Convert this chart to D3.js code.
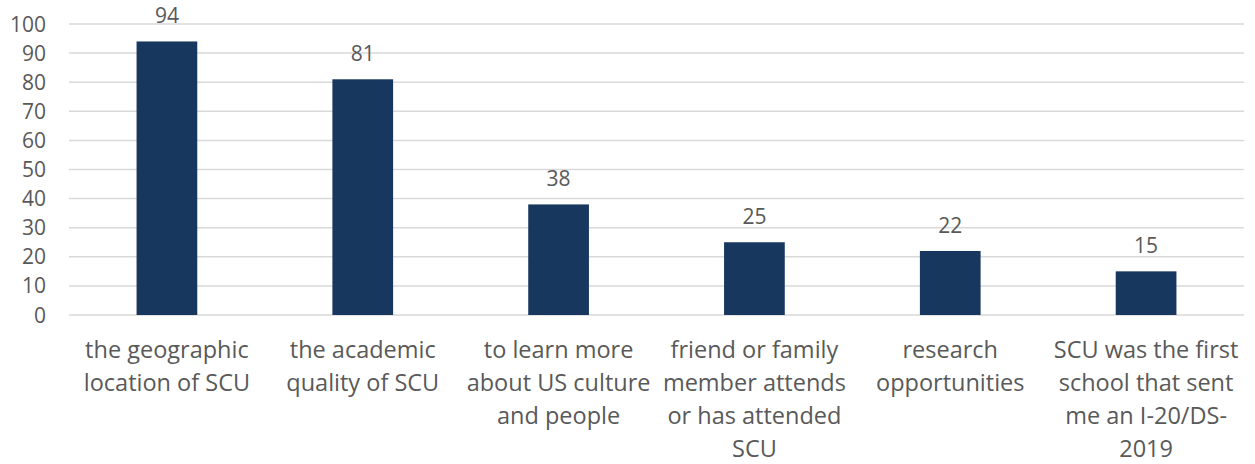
<!DOCTYPE html>
<html>
<head>
<meta charset="utf-8">
<script src="https://cdn.jsdelivr.net/npm/d3@7"></script>
<style>
  body { margin: 0; background: #fff; }
  text { font-family: "Open Sans", Lato, sans-serif; fill: #595959; }
</style>
</head>
<body>
<svg id="chart"></svg>
<script>
// categories, line breaks as in the original chart
const categories = [
  "the geographic\nlocation of SCU",
  "the academic\nquality of SCU",
  "to learn more\nabout US culture\nand people",
  "friend or family\nmember attends\nor has attended\nSCU",
  "research\nopportunities",
  "SCU was the first\nschool that sent\nme an I-20/DS-\n2019"
];
const values = [94, 81, 38, 25, 22, 15];
const yTicks = [0, 10, 20, 30, 40, 50, 60, 70, 80, 90, 100];

const width = 1255, height = 464;
const margin = {top: 24, right: 11, bottom: 149, left: 69};

const svg = d3.select("#chart")
    .attr("width", width)
    .attr("height", height);

const x = d3.scaleBand()
    .domain(categories)
    .range([margin.left, width - margin.right])
    .paddingInner(0.69)
    .paddingOuter(0.345);

const y = d3.scaleLinear()
    .domain([0, 100])
    .range([height - margin.bottom, margin.top]);

// gridlines
svg.append("g")
    .selectAll("line")
    .data(yTicks)
    .join("line")
    .attr("x1", margin.left)
    .attr("x2", width - margin.right)
    .attr("y1", d => y(d))
    .attr("y2", d => y(d))
    .attr("stroke", "#d9d9d9")
    .attr("stroke-width", 1.5);

// y tick labels
svg.append("g")
    .selectAll("text")
    .data(yTicks)
    .join("text")
    .attr("x", 46)
    .attr("y", d => y(d))
    .attr("dy", "0.36em")
    .attr("text-anchor", "end")
    .style("font-size", "21px")
    .text(d => d);

// bars
svg.append("g")
    .selectAll("rect")
    .data(values)
    .join("rect")
    .attr("x", (d, i) => x(categories[i]))
    .attr("y", d => y(d))
    .attr("width", x.bandwidth())
    .attr("height", d => y(0) - y(d))
    .attr("fill", "#17375e");

// value labels
svg.append("g")
    .selectAll("text")
    .data(values)
    .join("text")
    .attr("x", (d, i) => x(categories[i]) + x.bandwidth() / 2)
    .attr("y", d => y(d) - 18)
    .attr("text-anchor", "middle")
    .style("font-size", "21px")
    .text(d => d);

// category labels
svg.append("g")
    .selectAll("text")
    .data(categories)
    .join("text")
    .attr("text-anchor", "middle")
    .style("font-size", "23.5px")
    .each(function(d) {
        const t = d3.select(this);
        const cx = x(d) + x.bandwidth() / 2;
        d.split("\n").forEach((line, k) => {
            t.append("tspan")
                .attr("x", cx)
                .attr("y", 358 + k * 33)
                .text(line);
        });
    });
</script>
</body>
</html>
